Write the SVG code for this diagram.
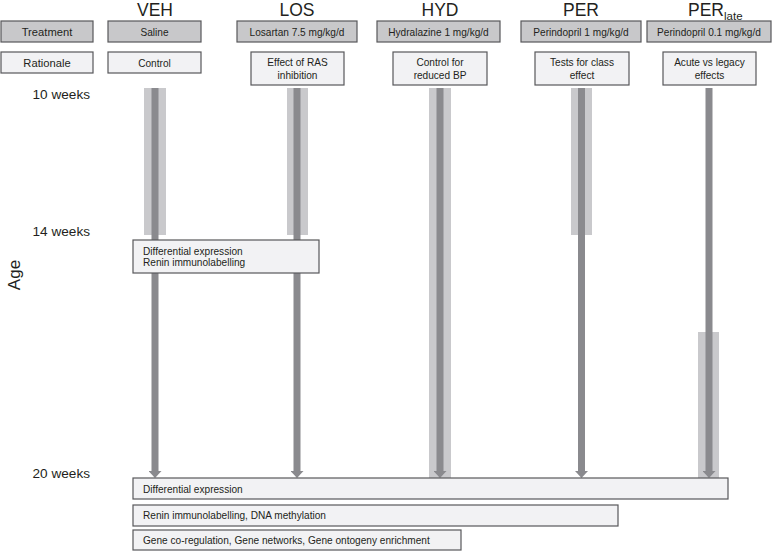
<svg xmlns="http://www.w3.org/2000/svg" width="777" height="551" viewBox="0 0 777 551">
<style>
text{font-family:"Liberation Sans",Arial,sans-serif;fill:#231f20}
.hd{font-size:17.5px;text-anchor:middle}
.bx{font-size:10.1px;text-anchor:middle}
.lb{font-size:11.2px;text-anchor:middle}
.wk{font-size:13.6px;text-anchor:end}
.an{font-size:10.1px}
.dk{fill:#c8c8ca;stroke:#58585a;stroke-width:1.2}
.lt{fill:#f2f2f4;stroke:#58585a;stroke-width:1.2}
.band{fill:#c9c9cc}
.bar{stroke:#8a8a8e;stroke-width:7}
</style>
<defs>
<marker id="ah" markerWidth="7" markerHeight="13" refX="0" refY="6.5" orient="auto" markerUnits="userSpaceOnUse" viewBox="0 0 7 13">
<path d="M0,0 L7,6.5 L0,13 Z" fill="#8a8a8e"/>
</marker>
</defs>
<rect width="777" height="551" fill="#fff"/>

<g id="headers">
<text class="hd" x="155" y="16">VEH</text>
<text class="hd" x="297" y="16">LOS</text>
<text class="hd" x="440" y="16">HYD</text>
<text class="hd" x="581" y="16">PER</text>
<text font-size="17.5px" x="688" y="16">PER<tspan font-size="11.5px" dy="4">late</tspan></text>
</g>

<g id="row-labels">
<rect class="dk" x="1" y="21" width="92" height="21"/>
<text class="lb" x="47" y="35.5">Treatment</text>
<rect class="lt" x="1" y="52" width="92" height="21"/>
<text class="lb" x="47" y="66.5">Rationale</text>
<text class="wk" x="90" y="99">10 weeks</text>
<text class="wk" x="90" y="236">14 weeks</text>
<text class="wk" x="90" y="478">20 weeks</text>
<text font-size="17px" transform="translate(20,275) rotate(-90)" text-anchor="middle">Age</text>
</g>

<g id="bands">
<rect class="band" x="144" y="88" width="22" height="147"/>
<rect class="band" x="287" y="88" width="21" height="147"/>
<rect class="band" x="429" y="88" width="22" height="390"/>
<rect class="band" x="571" y="88" width="21" height="147"/>
<rect class="band" x="698" y="332" width="21" height="146"/>
</g>

<g id="connectors">
<line class="bar" x1="155" y1="88" x2="155" y2="471" marker-end="url(#ah)"/>
<line class="bar" x1="297" y1="88" x2="297" y2="471" marker-end="url(#ah)"/>
<line class="bar" x1="440" y1="88" x2="440" y2="471" marker-end="url(#ah)"/>
<line class="bar" x1="581.5" y1="88" x2="581.5" y2="471" marker-end="url(#ah)"/>
<line class="bar" x1="709" y1="88" x2="709" y2="471" marker-end="url(#ah)"/>
</g>

<g id="veh">
<rect class="dk" x="108" y="21" width="93" height="21"/>
<text class="bx" x="154.5" y="35.5">Saline</text>
<rect class="lt" x="108" y="52" width="93" height="21"/>
<text class="bx" x="154.5" y="66.5">Control</text>
</g>

<g id="los">
<rect class="dk" x="237" y="21" width="120" height="21"/>
<text class="bx" x="297" y="35.5">Losartan 7.5 mg/kg/d</text>
<rect class="lt" x="251" y="52" width="93" height="33"/>
<text class="bx" x="297.5" y="66">Effect of RAS</text>
<text class="bx" x="297.5" y="78.5">inhibition</text>
</g>

<g id="hyd">
<rect class="dk" x="377" y="21" width="123" height="21"/>
<text class="bx" x="438.5" y="35.5">Hydralazine 1 mg/kg/d</text>
<rect class="lt" x="393" y="52" width="94" height="33"/>
<text class="bx" x="440" y="66">Control for</text>
<text class="bx" x="440" y="78.5">reduced BP</text>
</g>

<g id="per">
<rect class="dk" x="521" y="21" width="120" height="21"/>
<text class="bx" x="581" y="35.5">Perindopril 1 mg/kg/d</text>
<rect class="lt" x="535" y="52" width="94" height="33"/>
<text class="bx" x="582" y="66">Tests for class</text>
<text class="bx" x="582" y="78.5">effect</text>
</g>

<g id="perlate">
<rect class="dk" x="647" y="21" width="124" height="21"/>
<text class="bx" x="709" y="35.5">Perindopril 0.1 mg/kg/d</text>
<rect class="lt" x="663" y="52" width="93" height="33"/>
<text class="bx" x="709.5" y="66">Acute vs legacy</text>
<text class="bx" x="709.5" y="78.5">effects</text>
</g>

<g id="analysis-14">
<rect class="lt" x="133" y="240" width="186" height="33"/>
<text class="an" x="143" y="255">Differential expression</text>
<text class="an" x="143" y="266">Renin immunolabelling</text>
</g>

<g id="analysis-20a">
<rect class="lt" x="133" y="478" width="595" height="21"/>
<text class="an" x="143" y="492.5">Differential expression</text>
</g>
<g id="analysis-20b">
<rect class="lt" x="133" y="505" width="485" height="21"/>
<text class="an" x="143" y="519">Renin immunolabelling, DNA methylation</text>
</g>
<g id="analysis-20c">
<rect class="lt" x="133" y="530" width="328" height="20"/>
<text class="an" x="143" y="544">Gene co-regulation, Gene networks, Gene ontogeny enrichment</text>
</g>
</svg>
